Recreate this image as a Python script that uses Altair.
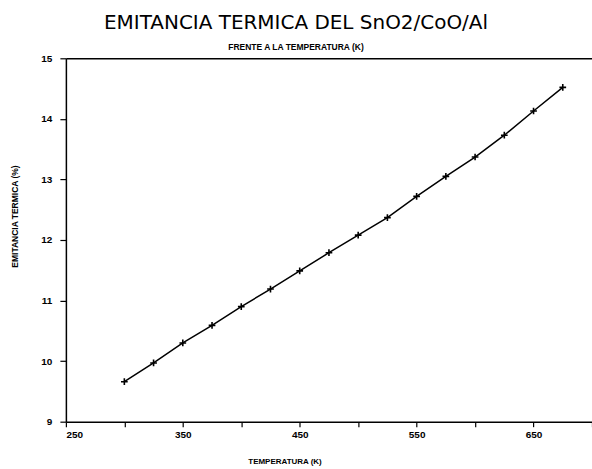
import altair as alt
import pandas as pd

temperatura = [300, 325, 350, 375, 400, 425, 450, 475, 500, 525, 550, 575, 600, 625, 650, 675]
emitancia = [9.66, 9.97, 10.30, 10.59, 10.90, 11.19, 11.49, 11.79, 12.08, 12.37, 12.72, 13.05, 13.37, 13.73, 14.13, 14.52]
x_ticks = [250, 300, 350, 400, 450, 500, 550, 600, 650, 700]
y_ticks = [9, 10, 11, 12, 13, 14, 15]

df = pd.DataFrame({"T": temperatura, "E": emitancia})

x_scale = alt.Scale(domain=[250, 700], nice=False, zero=False)
y_scale = alt.Scale(domain=[9, 15], nice=False, zero=False)

x_enc = alt.X(
    "T:Q",
    scale=x_scale,
    axis=alt.Axis(
        values=x_ticks,
        labelExpr="datum.value % 100 == 50 ? datum.label : ''",
        title="TEMPERATURA (K)",
        titleX=219, titleY=40, titleBaseline="middle", titleAlign="center",
        titleFont="Liberation Sans", titleFontSize=8, titleFontWeight="bold",
        labelFont="Liberation Sans", labelFontSize=10, labelFontWeight="bold",
        labelColor="black", titleColor="black",
        tickSize=5, tickColor="black", tickWidth=1.2,
        domainColor="black", domainWidth=1.5, grid=False, labelPadding=3,
    ),
)
y_enc = alt.Y(
    "E:Q",
    scale=y_scale,
    axis=alt.Axis(
        values=y_ticks,
        format="d",
        title="EMITANCIA TERMICA (%)",
        titleX=-51, titleY=158, titleBaseline="middle", titleAlign="center", titleAngle=270,
        titleFont="Liberation Sans", titleFontSize=8.5, titleFontWeight="bold",
        labelFont="Liberation Sans", labelFontSize=10, labelFontWeight="bold",
        labelColor="black", titleColor="black",
        tickSize=6, tickColor="black", tickWidth=1.2, labelPadding=8,
        domainColor="black", domainWidth=1.5, grid=False,
    ),
)

line = alt.Chart(df).mark_line(color="black", strokeWidth=1.5).encode(x=x_enc, y=y_enc)
pts = alt.Chart(df).mark_point(
    shape="M-1,0L1,0M0,-1L0,1", size=45, filled=False, color="black", strokeWidth=1.6, opacity=1
).encode(
    x=alt.X("T:Q", scale=x_scale, axis=alt.Axis(
        orient="top", labels=False, ticks=False, title=None, grid=False,
        domainColor="black", domainWidth=1.5)),
    y="E:Q",
)

chart = (line + pts).resolve_axis(x="independent").properties(
    width=527,
    height=364,
    autosize=alt.AutoSizeParams(type="none"),
    padding={"left": 66, "top": 58, "right": 0, "bottom": 47},
    background="white",
    title=alt.TitleParams(
        text="EMITANCIA TERMICA DEL SnO2/CoO/Al",
        subtitle="FRENTE A LA TEMPERATURA (K)",
        anchor="middle",
        frame="group",
        dx=-33,
        font="DejaVu Sans",
        fontSize=20,
        fontWeight="normal",
        color="black",
        subtitleFont="Liberation Sans",
        subtitleFontSize=8.5,
        subtitleFontWeight="bold",
        subtitleColor="black",
        subtitlePadding=10,
        offset=2,
    ),
).configure_view(stroke=None)

chart.save("out.html", embed_options={"renderer": "svg", "actions": False})
